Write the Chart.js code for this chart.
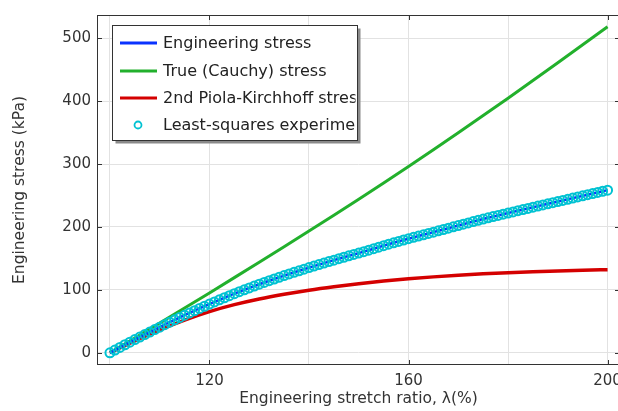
<!DOCTYPE html>
<html>
<head>
<meta charset="utf-8">
<script src="https://cdn.jsdelivr.net/npm/chart.js@4/dist/chart.umd.min.js"></script>
<style>
  html, body { margin: 0; padding: 0; background: #fff; overflow: hidden; }
  #wrap { width: 618px; height: 411px; overflow: hidden; }
</style>
</head>
<body>
<div id="wrap"><canvas id="stressChart" width="640" height="411"></canvas></div>
<script>
// stretch ratio (%) for the fitted engineering stress, 1 % steps
var stretchFine = [
  100, 101, 102, 103, 104, 105, 106, 107, 108, 109,
  110, 111, 112, 113, 114, 115, 116, 117, 118, 119,
  120, 121, 122, 123, 124, 125, 126, 127, 128, 129,
  130, 131, 132, 133, 134, 135, 136, 137, 138, 139,
  140, 141, 142, 143, 144, 145, 146, 147, 148, 149,
  150, 151, 152, 153, 154, 155, 156, 157, 158, 159,
  160, 161, 162, 163, 164, 165, 166, 167, 168, 169,
  170, 171, 172, 173, 174, 175, 176, 177, 178, 179,
  180, 181, 182, 183, 184, 185, 186, 187, 188, 189,
  190, 191, 192, 193, 194, 195, 196, 197, 198, 199,
  200
];
// engineering stress (kPa)
var engStress = [
  0, 4.3, 8.6, 12.8, 16.9, 21.0, 25.0, 29.0, 33.0, 36.9,
  40.8, 44.7, 48.6, 52.4, 56.1, 59.8, 63.4, 67.0, 70.5, 74.0,
  77.5, 80.9, 84.2, 87.5, 90.8, 94.0, 97.1, 100.2, 103.2, 106.1,
  109.0, 111.8, 114.6, 117.3, 120.0, 122.7, 125.3, 127.9, 130.4, 132.9,
  135.4, 137.8, 140.2, 142.6, 145.0, 147.3, 149.6, 151.9, 154.1, 156.3,
  158.5, 160.8, 163.1, 165.5, 167.9, 170.3, 172.6, 174.9, 177.1, 179.3,
  181.4, 183.5, 185.6, 187.6, 189.7, 191.8, 193.9, 196.0, 198.1, 200.2,
  202.3, 204.4, 206.5, 208.6, 210.6, 212.6, 214.6, 216.5, 218.4, 220.3,
  222.2, 224.0, 225.9, 227.7, 229.5, 231.4, 233.2, 235.0, 236.8, 238.6,
  240.4, 242.2, 244.0, 245.9, 247.7, 249.5, 251.3, 253.1, 254.9, 256.8,
  258.6
];
// stretch ratio (%) for the true and 2nd PK curves, 5 % steps
var stretchCoarse = [100, 105, 110, 115, 120, 125, 130, 135, 140, 145, 150,
                     155, 160, 165, 170, 175, 180, 185, 190, 195, 200];
var cauchyStress = [0, 23.5, 47.2, 71.1, 95.2, 119.5, 144, 168.7, 193.6, 218.7, 244.1,
                    269.9, 296.1, 322.7, 349.7, 377.1, 404.8, 432.8, 461.1, 489.6, 518.3];
var pk2Stress = [0, 19, 36.5, 52, 65.5, 76.5, 85.5, 93, 99.5, 105, 109.8,
                 114, 117.6, 120.7, 123.3, 125.5, 127.3, 128.8, 130.1, 131.2, 132.2];

var xGrid = [100, 120, 140, 160, 180, 200];
var xTickLabels = [120, 160, 200];
var yTicks = [0, 100, 200, 300, 400, 500];

var seriesNames = ['Engineering stress', 'True (Cauchy) stress',
                   '2nd Piola-Kirchhoff stress', 'Least-squares experimental fit'];

var BLUE = '#0a32ff', GREEN = '#22b02c', RED = '#d40000', CYAN = '#00c2d2';
var FONT = '"DejaVu Sans", sans-serif';

function pairs(xs, ys) {
  return xs.map(function (v, i) { return { x: v, y: ys[i] }; });
}

// box frame with inward tick marks on all four sides
var frameTicks = {
  id: 'frameTicks',
  afterDraw: function (chart) {
    var ctx = chart.ctx, a = chart.chartArea, x = chart.scales.x, y = chart.scales.y;
    ctx.save();
    ctx.strokeStyle = '#333';
    ctx.lineWidth = 1;
    ctx.strokeRect(Math.round(a.left) + 0.5, Math.round(a.top) + 0.5,
                   Math.round(a.right - a.left) - 1, Math.round(a.bottom - a.top) - 1);
    ctx.beginPath();
    xTickLabels.forEach(function (v) {
      var px = Math.round(x.getPixelForValue(v)) + 0.5;
      ctx.moveTo(px, a.bottom); ctx.lineTo(px, a.bottom - 5);
      ctx.moveTo(px, a.top); ctx.lineTo(px, a.top + 5);
    });
    yTicks.forEach(function (v) {
      var py = Math.round(y.getPixelForValue(v)) + 0.5;
      ctx.moveTo(a.left, py); ctx.lineTo(a.left + 5, py);
      ctx.moveTo(a.right, py); ctx.lineTo(a.right - 5, py);
    });
    ctx.stroke();
    ctx.restore();
  }
};

// boxed legend with drop shadow; long labels are clipped at the box edge
var boxLegend = {
  id: 'boxLegend',
  afterDraw: function (chart) {
    var ctx = chart.ctx;
    var bx = 112.5, by = 25.5, bw = 245, bh = 115;
    ctx.save();
    ctx.fillStyle = '#8a8a8a';
    ctx.fillRect(bx + 3, by + 3, bw, bh);
    ctx.fillStyle = '#fff';
    ctx.fillRect(bx, by, bw, bh);
    ctx.strokeStyle = '#333';
    ctx.lineWidth = 1;
    ctx.strokeRect(bx, by, bw, bh);
    ctx.beginPath();
    ctx.rect(bx + 1, by + 1, bw - 3, bh - 2);
    ctx.clip();
    var rows = [43, 71, 98, 125];
    var colors = [BLUE, GREEN, RED, CYAN];
    ctx.font = '16px ' + FONT;
    ctx.textBaseline = 'middle';
    rows.forEach(function (ry, i) {
      if (i < 3) {
        ctx.strokeStyle = colors[i];
        ctx.lineWidth = 3;
        ctx.beginPath();
        ctx.moveTo(120, ry); ctx.lineTo(157, ry);
        ctx.stroke();
      } else {
        ctx.strokeStyle = CYAN;
        ctx.lineWidth = 1.8;
        ctx.beginPath();
        ctx.arc(138, ry, 3.5, 0, Math.PI * 2);
        ctx.stroke();
      }
      ctx.fillStyle = '#222';
      ctx.fillText(seriesNames[i], 163, ry + 1);
    });
    ctx.restore();
  }
};

var ctx = document.getElementById('stressChart').getContext('2d');
var stressChart = new Chart(ctx, {
  type: 'line',
  data: {
    datasets: [{
      label: seriesNames[3],
      data: pairs(stretchFine, engStress),
      showLine: false,
      pointStyle: 'circle',
      pointRadius: 4.5,
      pointBorderWidth: 2,
      pointBorderColor: CYAN,
      pointBackgroundColor: 'rgba(0,0,0,0)',
      order: 0
    }, {
      label: seriesNames[0],
      data: pairs(stretchFine, engStress),
      borderColor: BLUE,
      borderWidth: 2.5,
      pointRadius: 0,
      tension: 0,
      order: 1
    }, {
      label: seriesNames[1],
      data: pairs(stretchCoarse, cauchyStress),
      borderColor: GREEN,
      borderWidth: 3,
      pointRadius: 0,
      cubicInterpolationMode: 'monotone',
      order: 2
    }, {
      label: seriesNames[2],
      data: pairs(stretchCoarse, pk2Stress),
      borderColor: RED,
      borderWidth: 3.5,
      pointRadius: 0,
      cubicInterpolationMode: 'monotone',
      order: 2
    }]
  },
  options: {
    responsive: false,
    animation: false,
    devicePixelRatio: 1,
    layout: { padding: { top: 11, right: 20, left: 0, bottom: 0 } },
    plugins: { legend: { display: false }, tooltip: { enabled: false } },
    scales: {
      x: {
        type: 'linear',
        min: 97.4,
        max: 202.5,
        afterBuildTicks: function (scale) {
          scale.ticks = xGrid.map(function (v) { return { value: v }; });
        },
        afterFit: function (scale) { scale.height = 46; },
        grid: { color: '#e2e2e2', drawTicks: false },
        border: { display: false },
        ticks: {
          padding: 7,
          maxRotation: 0,
          autoSkip: false,
          color: '#333',
          font: { family: FONT, size: 15 },
          callback: function (v) { return xTickLabels.indexOf(v) >= 0 ? String(v) : ''; }
        },
        title: {
          display: true,
          text: 'Engineering stretch ratio, λ(%)',
          color: '#333',
          font: { family: FONT, size: 15.5 },
          padding: { top: 0, bottom: 3 }
        }
      },
      y: {
        min: -19.4,
        max: 537,
        afterBuildTicks: function (scale) {
          scale.ticks = yTicks.map(function (v) { return { value: v }; });
        },
        afterFit: function (scale) { scale.width = 97; },
        grid: { color: '#e2e2e2', drawTicks: false },
        border: { display: false },
        ticks: {
          padding: 6,
          color: '#333',
          font: { family: FONT, size: 15 }
        },
        title: {
          display: true,
          text: 'Engineering stress (kPa)',
          color: '#333',
          font: { family: FONT, size: 15.5 },
          padding: { top: 11, bottom: 0 }
        }
      }
    }
  },
  plugins: [frameTicks, boxLegend]
});
</script>
</body>
</html>
